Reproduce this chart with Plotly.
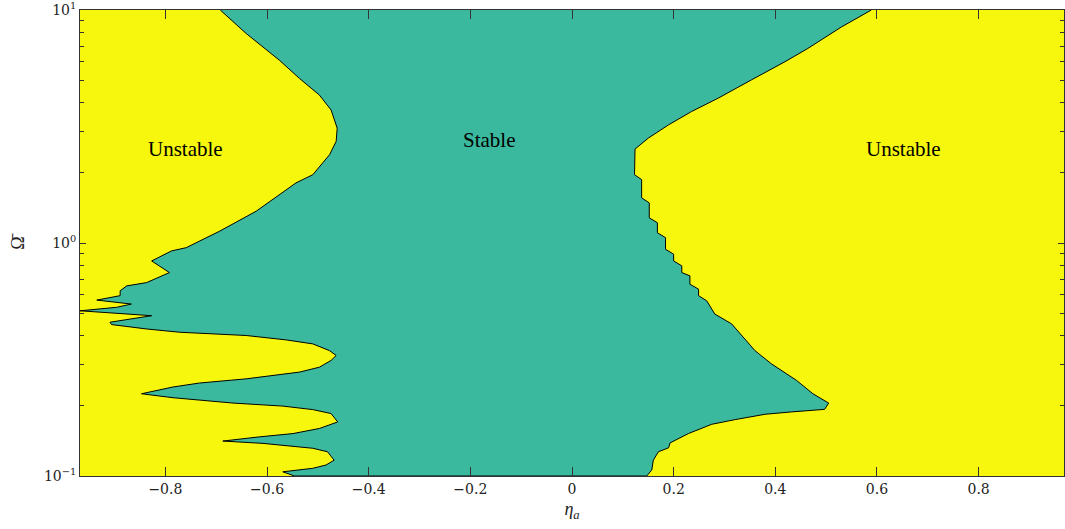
import numpy as np
import plotly.graph_objects as go

# Left stability boundary (eta_a, log10 Omega), top -> bottom
left_eta = [-0.692, -0.641, -0.576, -0.536, -0.497, -0.474, -0.462, -0.464, -0.477, -0.494,
            -0.510, -0.543, -0.576, -0.621, -0.693, -0.759, -0.788, -0.827, -0.792, -0.837,
            -0.876, -0.889, -0.889, -0.935, -0.867, -0.896, -0.968, -0.827, -0.909, -0.906,
            -0.837, -0.772, -0.641, -0.562, -0.510, -0.477, -0.464, -0.474, -0.497, -0.536,
            -0.641, -0.733, -0.785, -0.847, -0.785, -0.667, -0.569, -0.510, -0.474, -0.461,
            -0.497, -0.549, -0.615, -0.687, -0.608, -0.510, -0.481, -0.468, -0.484, -0.510,
            -0.569, -0.546]
left_logw = [1.000, 0.899, 0.785, 0.706, 0.635, 0.571, 0.493, 0.436, 0.379, 0.336,
             0.293, 0.258, 0.208, 0.137, 0.051, -0.020, -0.034, -0.077, -0.127, -0.170,
             -0.184, -0.205, -0.226, -0.245, -0.262, -0.276, -0.291, -0.312, -0.340, -0.350,
             -0.369, -0.383, -0.397, -0.416, -0.433, -0.462, -0.483, -0.504, -0.533, -0.554,
             -0.583, -0.601, -0.618, -0.647, -0.664, -0.687, -0.700, -0.715, -0.732, -0.768,
             -0.796, -0.818, -0.832, -0.850, -0.860, -0.881, -0.896, -0.932, -0.953, -0.967,
             -0.982, -1.000]

# Right stability boundary (eta_a, log10 Omega), top -> bottom
right_eta = [0.589, 0.530, 0.464, 0.419, 0.353, 0.288, 0.235, 0.190, 0.150, 0.124,
             0.123, 0.137, 0.137, 0.152, 0.152, 0.168, 0.168, 0.184, 0.184, 0.200,
             0.200, 0.216, 0.216, 0.232, 0.232, 0.249, 0.249, 0.265, 0.281, 0.314,
             0.343, 0.360, 0.392, 0.442, 0.474, 0.505, 0.497, 0.432, 0.380, 0.321,
             0.275, 0.229, 0.193, 0.190, 0.170, 0.160, 0.157, 0.147]
right_logw = [1.000, 0.927, 0.835, 0.778, 0.700, 0.622, 0.564, 0.507, 0.450, 0.403,
              0.293, 0.272, 0.194, 0.172, 0.108, 0.087, 0.044, 0.023, -0.027, -0.048,
              -0.077, -0.098, -0.127, -0.141, -0.177, -0.198, -0.226, -0.248, -0.305, -0.347,
              -0.419, -0.462, -0.518, -0.590, -0.647, -0.687, -0.714, -0.725, -0.735, -0.758,
              -0.778, -0.818, -0.858, -0.879, -0.896, -0.932, -0.974, -1.000]

# Region labels: (text, eta_a, log10 Omega)
labels = [("Unstable", -0.760, 0.402), ("Stable", -0.162, 0.443), ("Unstable", 0.653, 0.402)]

x_ticks = [-0.8, -0.6, -0.4, -0.2, 0, 0.2, 0.4, 0.6, 0.8]
x_ticktext = ["\u22120.8", "\u22120.6", "\u22120.4", "\u22120.2", "0", "0.2", "0.4", "0.6", "0.8"]
y_ticks = [0.1, 1, 10]
y_ticktext = ["10<sup>\u22121</sup>", "10<sup>0</sup>", "10<sup>1</sup>"]
y_minor = [m * d for d in (0.1, 1) for m in range(2, 10)]

YELLOW = "#f6f70c"
TEAL = "#3ab99e"
FONT = "Liberation Serif"
TICKFONT = dict(family="DejaVu Serif", size=14, color="#222")

poly_x = list(left_eta) + list(right_eta[::-1])
poly_logw = list(left_logw) + list(right_logw[::-1])
poly_y = [10 ** v for v in poly_logw]

fig = go.Figure()
fig.add_trace(go.Scatter(x=poly_x, y=poly_y, mode="lines", fill="toself",
                         fillcolor=TEAL, line=dict(color="black", width=1),
                         hoverinfo="skip", showlegend=False))

for txt, ex, lw in labels:
    fig.add_annotation(x=ex, y=lw, text=txt, showarrow=False,
                       font=dict(family=FONT, size=21, color="black"))

fig.update_layout(
    width=1065, height=529,
    margin=dict(l=80, r=0, t=8, b=53),
    paper_bgcolor="white", plot_bgcolor=YELLOW,
    font=dict(family=FONT, size=17, color="#222"),
    showlegend=False,
)
fig.update_xaxes(range=[-0.968, 0.968], tickvals=x_ticks, ticktext=x_ticktext,
                 tickfont=TICKFONT, ticklabeloverflow="allow",
                 ticks="inside", ticklen=9, tickcolor="#333", tickwidth=1,
                 showline=True, linecolor="#333", linewidth=1, mirror="ticks",
                 showgrid=False, zeroline=False,
                 title=dict(text="<i>\u03b7<sub>a</sub></i>", standoff=6,
                            font=dict(family=FONT, size=18)))
fig.update_yaxes(type="log", range=[-1, 1], tickvals=y_ticks, ticktext=y_ticktext,
                 tickfont=TICKFONT, ticklabeloverflow="allow",
                 ticks="inside", ticklen=6, tickcolor="#333", tickwidth=1,
                 minor=dict(tickvals=y_minor, ticks="inside", ticklen=4, tickcolor="#333"),
                 showline=True, linecolor="#333", linewidth=1, mirror="ticks",
                 showgrid=False, zeroline=False,
                 title=dict(text="\u03a9\u0304", standoff=14,
                            font=dict(family=FONT, size=18)))

fig.write_html("out.html")
